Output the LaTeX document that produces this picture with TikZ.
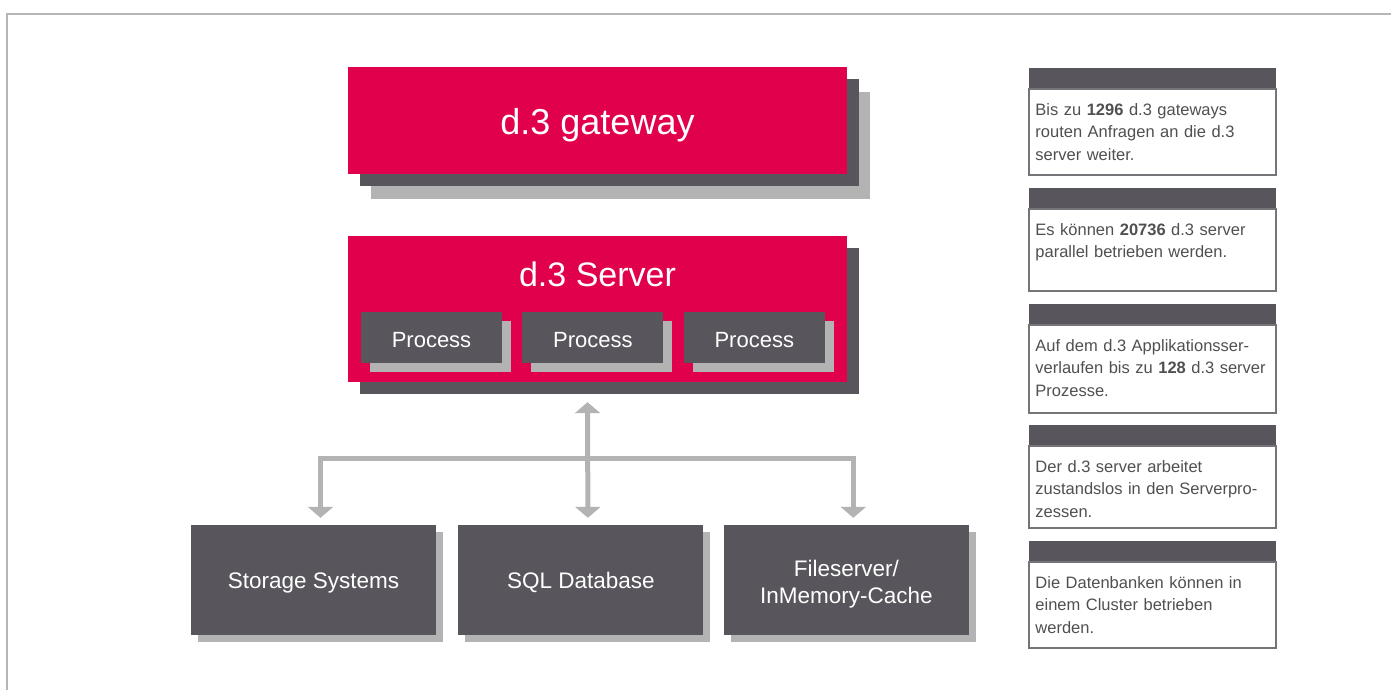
\documentclass[tikz,border=0pt]{standalone}
\usepackage{fontspec}
\setmainfont{Liberation Sans}
\usetikzlibrary{positioning,shadows,arrows.meta}
\definecolor{dred}{HTML}{E1004B}
\definecolor{dgray}{HTML}{58555C}
\definecolor{lgray}{HTML}{B3B3B3}
\definecolor{framegray}{HTML}{B4B5B8}
\definecolor{rimgray}{HTML}{767479}
\definecolor{notegray}{HTML}{505050}
\tikzset{
  redbox/.style={fill=dred, text=white, inner sep=0pt, minimum width=499pt},
  procbox/.style={fill=dgray, text=white, inner sep=0pt, minimum width=141pt, minimum height=51pt,
    font=\fontsize{22}{26}\selectfont, text height=19pt, text depth=0pt,
    drop shadow={fill=lgray, opacity=1, shadow xshift=9pt, shadow yshift=-9pt}},
  storebox/.style={fill=dgray, text=white, inner sep=0pt, minimum width=245pt, minimum height=110pt,
    font=\fontsize{22.5}{27}\selectfont, text height=16pt, text depth=0pt,
    drop shadow={fill=lgray, opacity=1, shadow xshift=7pt, shadow yshift=-7pt}},
  notehead/.style={fill=dgray, inner sep=0pt, minimum width=247pt, minimum height=20pt},
  notebody/.style={draw=rimgray, line width=1.5pt, fill=white, inner sep=0pt, minimum width=247pt},
  notetext/.style={anchor=base west, inner sep=0pt, text width=250pt, align=left, text=notegray,
    font=\fontsize{16.5}{22.5}\selectfont},
  conn/.style={lgray, line width=5pt, >={Triangle[width=25pt,length=11pt]}}
}
\begin{document}
\begin{tikzpicture}[x=1pt,y=-1pt]
      \useasboundingbox (0,0) rectangle (1391,689);
      \draw[framegray, line width=2.4pt] (7.2,692) -- (7.2,13.8) -- (1394,13.8);

      \node[redbox, minimum height=107pt, font=\fontsize{36}{40}\selectfont, text height=27pt, text depth=0pt,
        drop shadow={fill=lgray, opacity=1, shadow xshift=23pt, shadow yshift=-25pt},
        drop shadow={fill=dgray, opacity=1, shadow xshift=12pt, shadow yshift=-12pt}]
        (gw) at (597.5,120.5) {d.3 gateway};

      \node[redbox, minimum height=146pt,
        drop shadow={fill=dgray, opacity=1, shadow xshift=12pt, shadow yshift=-12pt}]
        (srv) at (597.5,309) {};
      \node[font=\fontsize{34}{38}\selectfont, text=white, anchor=base, inner sep=0pt]
        (srvname) at ([yshift=-51pt]srv.north) {d.3 Server};
      \node[procbox] (p1) at (431.5,337.5) {Process};
      \node[procbox, right=20pt of p1] (p2) {Process};
      \node[procbox, right=20pt of p2] (p3) {Process};

      \node[storebox] (store) at (313.5,580) {Storage Systems};
      \node[storebox, right=22pt of store] (sql) {SQL Database};
      \node[storebox, right=20pt of sql, text width=245pt, align=center, text depth=24pt]
        (cache) {Fileserver/\\InMemory-Cache};

      \coordinate (hub) at (587.5,458);
      \begin{scope}[conn]
        \draw[<->] ([xshift=-10pt,yshift=-20pt]srv.south) -- ([xshift=7pt,yshift=7pt]sql.north);
        \draw[->] (hub) -| ([xshift=7pt,yshift=7pt]store.north);
        \draw[->] (hub) -| ([xshift=7pt,yshift=7pt]cache.north);
      \end{scope}

      \node[notehead] (h1) at (1152.5,78) {};
      \node[notebody, minimum height=86pt, below=0pt of h1] (b1) {};
      \node[notetext] (t1) at ([xshift=7pt,yshift=-27pt]b1.north west)
        {Bis zu \textbf{1296} d.3 gateways\\routen Anfragen an die d.3\\server weiter.};

      \node[notehead] (h2) at (1152.5,198) {};
      \node[notebody, minimum height=82pt, below=0pt of h2] (b2) {};
      \node[notetext] (t2) at ([xshift=7pt,yshift=-27pt]b2.north west)
        {Es können \textbf{20736} d.3 server\\parallel betrieben werden.};

      \node[notehead] (h3) at (1152.5,314) {};
      \node[notebody, minimum height=88pt, below=0pt of h3] (b3) {};
      \node[notetext] (t3) at ([xshift=7pt,yshift=-27pt]b3.north west)
        {Auf dem d.3 Applikationsser-\\verlaufen bis zu \textbf{128} d.3 server\\Prozesse.};

      \node[notehead] (h4) at (1152.5,435) {};
      \node[notebody, minimum height=82pt, below=0pt of h4] (b4) {};
      \node[notetext] (t4) at ([xshift=7pt,yshift=-27pt]b4.north west)
        {Der d.3 server arbeitet\\zustandslos in den Serverpro-\\zessen.};

      \node[notehead] (h5) at (1152.5,551) {};
      \node[notebody, minimum height=86pt, below=0pt of h5] (b5) {};
      \node[notetext] (t5) at ([xshift=7pt,yshift=-27pt]b5.north west)
        {Die Datenbanken können in\\einem Cluster betrieben\\werden.};
    \end{tikzpicture}
\end{document}
